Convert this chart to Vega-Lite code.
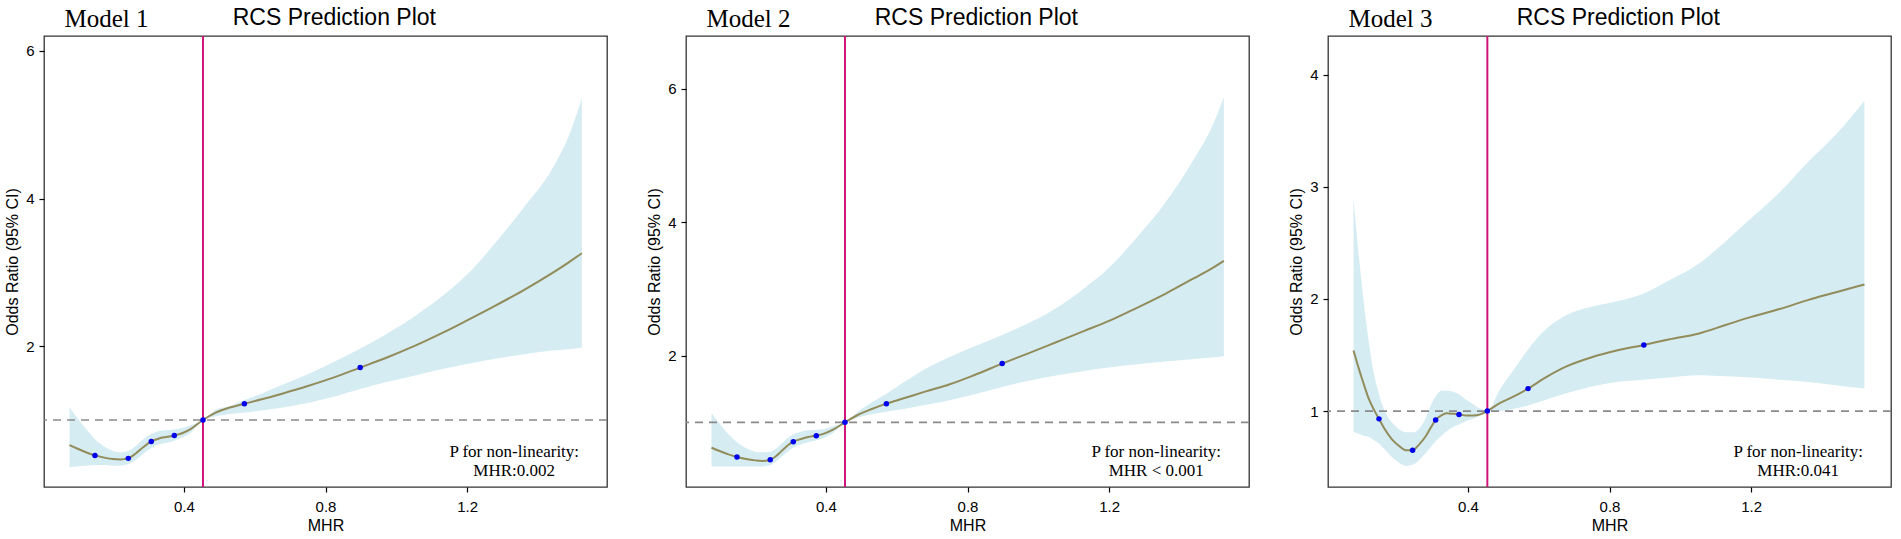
{
  "$schema": "https://vega.github.io/schema/vega-lite/v6.json",
  "padding": {"left": 4, "top": 6, "right": 0, "bottom": 0},
  "background": "white",
  "spacing": 37,
  "datasets": {
    "rcs": [
      {"m": "Model 1", "x": 0.077, "or": 0.66, "lo": 0.36, "hi": 1.17},
      {"m": "Model 1", "x": 0.10, "or": 0.61, "lo": 0.37, "hi": 1.02},
      {"m": "Model 1", "x": 0.125, "or": 0.56, "lo": 0.38, "hi": 0.87},
      {"m": "Model 1", "x": 0.149, "or": 0.52, "lo": 0.39, "hi": 0.74},
      {"m": "Model 1", "x": 0.175, "or": 0.49, "lo": 0.39, "hi": 0.64},
      {"m": "Model 1", "x": 0.20, "or": 0.47, "lo": 0.38, "hi": 0.58},
      {"m": "Model 1", "x": 0.22, "or": 0.465, "lo": 0.38, "hi": 0.56},
      {"m": "Model 1", "x": 0.243, "or": 0.48, "lo": 0.40, "hi": 0.58},
      {"m": "Model 1", "x": 0.265, "or": 0.55, "lo": 0.46, "hi": 0.65},
      {"m": "Model 1", "x": 0.285, "or": 0.63, "lo": 0.54, "hi": 0.74},
      {"m": "Model 1", "x": 0.308, "or": 0.71, "lo": 0.62, "hi": 0.81},
      {"m": "Model 1", "x": 0.33, "or": 0.75, "lo": 0.67, "hi": 0.85},
      {"m": "Model 1", "x": 0.35, "or": 0.77, "lo": 0.69, "hi": 0.86},
      {"m": "Model 1", "x": 0.373, "or": 0.79, "lo": 0.72, "hi": 0.87},
      {"m": "Model 1", "x": 0.395, "or": 0.82, "lo": 0.76, "hi": 0.89},
      {"m": "Model 1", "x": 0.42, "or": 0.88, "lo": 0.83, "hi": 0.93},
      {"m": "Model 1", "x": 0.454, "or": 1.0, "lo": 1.0, "hi": 1.0},
      {"m": "Model 1", "x": 0.49, "or": 1.10, "lo": 1.05, "hi": 1.14},
      {"m": "Model 1", "x": 0.53, "or": 1.17, "lo": 1.08, "hi": 1.19},
      {"m": "Model 1", "x": 0.571, "or": 1.22, "lo": 1.10, "hi": 1.27},
      {"m": "Model 1", "x": 0.62, "or": 1.28, "lo": 1.13, "hi": 1.36},
      {"m": "Model 1", "x": 0.68, "or": 1.36, "lo": 1.17, "hi": 1.48},
      {"m": "Model 1", "x": 0.75, "or": 1.46, "lo": 1.23, "hi": 1.62},
      {"m": "Model 1", "x": 0.82, "or": 1.57, "lo": 1.31, "hi": 1.78},
      {"m": "Model 1", "x": 0.898, "or": 1.71, "lo": 1.42, "hi": 1.97},
      {"m": "Model 1", "x": 0.97, "or": 1.84, "lo": 1.51, "hi": 2.16},
      {"m": "Model 1", "x": 1.05, "or": 2.00, "lo": 1.60, "hi": 2.40},
      {"m": "Model 1", "x": 1.13, "or": 2.18, "lo": 1.69, "hi": 2.68},
      {"m": "Model 1", "x": 1.20, "or": 2.35, "lo": 1.76, "hi": 2.97},
      {"m": "Model 1", "x": 1.28, "or": 2.55, "lo": 1.83, "hi": 3.40},
      {"m": "Model 1", "x": 1.36, "or": 2.76, "lo": 1.89, "hi": 3.88},
      {"m": "Model 1", "x": 1.44, "or": 2.99, "lo": 1.94, "hi": 4.40},
      {"m": "Model 1", "x": 1.488, "or": 3.14, "lo": 1.96, "hi": 4.86},
      {"m": "Model 1", "x": 1.524, "or": 3.26, "lo": 1.98, "hi": 5.36},

      {"m": "Model 2", "x": 0.077, "or": 0.62, "lo": 0.34, "hi": 1.14},
      {"m": "Model 2", "x": 0.10, "or": 0.57, "lo": 0.34, "hi": 0.98},
      {"m": "Model 2", "x": 0.125, "or": 0.52, "lo": 0.34, "hi": 0.82},
      {"m": "Model 2", "x": 0.149, "or": 0.48, "lo": 0.34, "hi": 0.70},
      {"m": "Model 2", "x": 0.175, "or": 0.45, "lo": 0.34, "hi": 0.61},
      {"m": "Model 2", "x": 0.20, "or": 0.43, "lo": 0.34, "hi": 0.56},
      {"m": "Model 2", "x": 0.22, "or": 0.42, "lo": 0.34, "hi": 0.55},
      {"m": "Model 2", "x": 0.243, "or": 0.44, "lo": 0.36, "hi": 0.56},
      {"m": "Model 2", "x": 0.265, "or": 0.52, "lo": 0.44, "hi": 0.63},
      {"m": "Model 2", "x": 0.285, "or": 0.62, "lo": 0.53, "hi": 0.73},
      {"m": "Model 2", "x": 0.308, "or": 0.71, "lo": 0.62, "hi": 0.82},
      {"m": "Model 2", "x": 0.33, "or": 0.75, "lo": 0.67, "hi": 0.86},
      {"m": "Model 2", "x": 0.35, "or": 0.78, "lo": 0.70, "hi": 0.88},
      {"m": "Model 2", "x": 0.373, "or": 0.80, "lo": 0.73, "hi": 0.89},
      {"m": "Model 2", "x": 0.395, "or": 0.83, "lo": 0.77, "hi": 0.90},
      {"m": "Model 2", "x": 0.42, "or": 0.89, "lo": 0.84, "hi": 0.94},
      {"m": "Model 2", "x": 0.454, "or": 1.0, "lo": 1.0, "hi": 1.0},
      {"m": "Model 2", "x": 0.49, "or": 1.11, "lo": 1.07, "hi": 1.16},
      {"m": "Model 2", "x": 0.53, "or": 1.20, "lo": 1.12, "hi": 1.30},
      {"m": "Model 2", "x": 0.571, "or": 1.28, "lo": 1.16, "hi": 1.43},
      {"m": "Model 2", "x": 0.62, "or": 1.36, "lo": 1.20, "hi": 1.60},
      {"m": "Model 2", "x": 0.68, "or": 1.46, "lo": 1.26, "hi": 1.80},
      {"m": "Model 2", "x": 0.75, "or": 1.57, "lo": 1.33, "hi": 1.98},
      {"m": "Model 2", "x": 0.82, "or": 1.71, "lo": 1.42, "hi": 2.14},
      {"m": "Model 2", "x": 0.898, "or": 1.88, "lo": 1.53, "hi": 2.31},
      {"m": "Model 2", "x": 0.97, "or": 2.03, "lo": 1.62, "hi": 2.48},
      {"m": "Model 2", "x": 1.05, "or": 2.20, "lo": 1.70, "hi": 2.71},
      {"m": "Model 2", "x": 1.13, "or": 2.37, "lo": 1.77, "hi": 3.01},
      {"m": "Model 2", "x": 1.20, "or": 2.52, "lo": 1.82, "hi": 3.32},
      {"m": "Model 2", "x": 1.28, "or": 2.72, "lo": 1.87, "hi": 3.78},
      {"m": "Model 2", "x": 1.36, "or": 2.93, "lo": 1.91, "hi": 4.30},
      {"m": "Model 2", "x": 1.44, "or": 3.16, "lo": 1.95, "hi": 4.95},
      {"m": "Model 2", "x": 1.488, "or": 3.30, "lo": 1.97, "hi": 5.40},
      {"m": "Model 2", "x": 1.524, "or": 3.42, "lo": 1.99, "hi": 5.87},

      {"m": "Model 3", "x": 0.077, "or": 1.54, "lo": 0.81, "hi": 2.90},
      {"m": "Model 3", "x": 0.09, "or": 1.40, "lo": 0.80, "hi": 2.45},
      {"m": "Model 3", "x": 0.105, "or": 1.25, "lo": 0.78, "hi": 2.00},
      {"m": "Model 3", "x": 0.12, "or": 1.11, "lo": 0.77, "hi": 1.62},
      {"m": "Model 3", "x": 0.135, "or": 1.01, "lo": 0.74, "hi": 1.33},
      {"m": "Model 3", "x": 0.149, "or": 0.93, "lo": 0.71, "hi": 1.15},
      {"m": "Model 3", "x": 0.165, "or": 0.84, "lo": 0.66, "hi": 1.00},
      {"m": "Model 3", "x": 0.185, "or": 0.75, "lo": 0.59, "hi": 0.90},
      {"m": "Model 3", "x": 0.205, "or": 0.69, "lo": 0.54, "hi": 0.84},
      {"m": "Model 3", "x": 0.225, "or": 0.65, "lo": 0.51, "hi": 0.81},
      {"m": "Model 3", "x": 0.244, "or": 0.65, "lo": 0.52, "hi": 0.81},
      {"m": "Model 3", "x": 0.262, "or": 0.70, "lo": 0.56, "hi": 0.84},
      {"m": "Model 3", "x": 0.28, "or": 0.77, "lo": 0.62, "hi": 0.93},
      {"m": "Model 3", "x": 0.295, "or": 0.85, "lo": 0.68, "hi": 1.05},
      {"m": "Model 3", "x": 0.309, "or": 0.92, "lo": 0.73, "hi": 1.13},
      {"m": "Model 3", "x": 0.325, "or": 0.96, "lo": 0.78, "hi": 1.18},
      {"m": "Model 3", "x": 0.34, "or": 0.98, "lo": 0.82, "hi": 1.18},
      {"m": "Model 3", "x": 0.36, "or": 0.975, "lo": 0.86, "hi": 1.17},
      {"m": "Model 3", "x": 0.375, "or": 0.97, "lo": 0.88, "hi": 1.15},
      {"m": "Model 3", "x": 0.395, "or": 0.96, "lo": 0.91, "hi": 1.10},
      {"m": "Model 3", "x": 0.415, "or": 0.96, "lo": 0.93, "hi": 1.06},
      {"m": "Model 3", "x": 0.435, "or": 0.97, "lo": 0.96, "hi": 1.02},
      {"m": "Model 3", "x": 0.455, "or": 1.0, "lo": 1.0, "hi": 1.0},
      {"m": "Model 3", "x": 0.49, "or": 1.07, "lo": 1.00, "hi": 1.19},
      {"m": "Model 3", "x": 0.53, "or": 1.13, "lo": 1.02, "hi": 1.37},
      {"m": "Model 3", "x": 0.57, "or": 1.20, "lo": 1.05, "hi": 1.55},
      {"m": "Model 3", "x": 0.62, "or": 1.30, "lo": 1.10, "hi": 1.73},
      {"m": "Model 3", "x": 0.68, "or": 1.40, "lo": 1.16, "hi": 1.86},
      {"m": "Model 3", "x": 0.75, "or": 1.48, "lo": 1.22, "hi": 1.93},
      {"m": "Model 3", "x": 0.82, "or": 1.54, "lo": 1.26, "hi": 1.98},
      {"m": "Model 3", "x": 0.897, "or": 1.59, "lo": 1.28, "hi": 2.05},
      {"m": "Model 3", "x": 0.97, "or": 1.64, "lo": 1.30, "hi": 2.17},
      {"m": "Model 3", "x": 1.05, "or": 1.69, "lo": 1.32, "hi": 2.31},
      {"m": "Model 3", "x": 1.13, "or": 1.77, "lo": 1.31, "hi": 2.52},
      {"m": "Model 3", "x": 1.20, "or": 1.84, "lo": 1.30, "hi": 2.72},
      {"m": "Model 3", "x": 1.28, "or": 1.91, "lo": 1.28, "hi": 2.95},
      {"m": "Model 3", "x": 1.36, "or": 1.99, "lo": 1.26, "hi": 3.22},
      {"m": "Model 3", "x": 1.44, "or": 2.06, "lo": 1.23, "hi": 3.47},
      {"m": "Model 3", "x": 1.52, "or": 2.13, "lo": 1.20, "hi": 3.77}
    ],
    "pts": [
      {"m": "Model 1", "x": 0.149, "or": 0.52},
      {"m": "Model 1", "x": 0.243, "or": 0.48},
      {"m": "Model 1", "x": 0.308, "or": 0.71},
      {"m": "Model 1", "x": 0.373, "or": 0.79},
      {"m": "Model 1", "x": 0.454, "or": 1.0},
      {"m": "Model 1", "x": 0.571, "or": 1.22},
      {"m": "Model 1", "x": 0.898, "or": 1.71},
      {"m": "Model 2", "x": 0.149, "or": 0.48},
      {"m": "Model 2", "x": 0.243, "or": 0.44},
      {"m": "Model 2", "x": 0.308, "or": 0.71},
      {"m": "Model 2", "x": 0.373, "or": 0.80},
      {"m": "Model 2", "x": 0.454, "or": 1.0},
      {"m": "Model 2", "x": 0.571, "or": 1.28},
      {"m": "Model 2", "x": 0.898, "or": 1.88},
      {"m": "Model 3", "x": 0.149, "or": 0.93},
      {"m": "Model 3", "x": 0.244, "or": 0.65},
      {"m": "Model 3", "x": 0.309, "or": 0.92},
      {"m": "Model 3", "x": 0.375, "or": 0.97},
      {"m": "Model 3", "x": 0.455, "or": 1.0},
      {"m": "Model 3", "x": 0.57, "or": 1.20},
      {"m": "Model 3", "x": 0.897, "or": 1.59}
    ]
  },
  "hconcat": [
    {
      "width": 563, "height": 451,
      "layer": [
        {"data": {"name": "rcs"}, "transform": [{"filter": "datum.m == 'Model 1'"}],
         "mark": {"type": "area", "color": "#d5ecf3", "interpolate": "monotone"},
         "encoding": {
           "x": {"field": "x", "type": "quantitative", "scale": {"domain": [0.005, 1.595], "nice": false, "zero": false}, "axis": {"values": [0.4, 0.8, 1.2], "format": ".1f", "title": "MHR"}},
           "y": {"field": "lo", "type": "quantitative", "scale": {"domain": [0.092, 6.203], "nice": false, "zero": false}, "axis": {"values": [2, 4, 6], "format": "d", "title": "Odds Ratio (95% CI)"}},
           "y2": {"field": "hi"}}},
        {"data": {"values": [{}]}, "mark": {"type": "rule", "color": "#8a8a8a", "strokeDash": [8, 6], "strokeWidth": 1.7}, "encoding": {"y": {"datum": 1}}},
        {"data": {"values": [{}]}, "mark": {"type": "rule", "color": "#d0157a", "strokeWidth": 2}, "encoding": {"x": {"datum": 0.454}}},
        {"data": {"name": "rcs"}, "transform": [{"filter": "datum.m == 'Model 1'"}],
         "mark": {"type": "line", "color": "#928b5a", "strokeWidth": 2, "interpolate": "monotone"},
         "encoding": {"x": {"field": "x", "type": "quantitative"}, "y": {"field": "or", "type": "quantitative"}}},
        {"data": {"name": "pts"}, "transform": [{"filter": "datum.m == 'Model 1'"}],
         "mark": {"type": "point", "filled": true, "color": "#0000ee", "size": 30, "opacity": 1},
         "encoding": {"x": {"field": "x", "type": "quantitative"}, "y": {"field": "or", "type": "quantitative"}}},
        {"data": {"values": [{}]}, "mark": {"type": "text", "text": ["P for non-linearity:", "MHR:0.002"], "font": "Liberation Serif", "fontSize": 17, "lineHeight": 19, "align": "center", "baseline": "alphabetic", "color": "#000"},
         "encoding": {"x": {"datum": 1.333}, "y": {"datum": 0.499}}},
        {"data": {"values": [{}]}, "mark": {"type": "text", "text": "Model 1", "font": "Liberation Serif", "fontSize": 25, "align": "left", "baseline": "alphabetic", "color": "#000"},
         "encoding": {"x": {"datum": 0.063}, "y": {"datum": 6.325}}},
        {"data": {"values": [{}]}, "mark": {"type": "text", "text": "RCS Prediction Plot", "font": "Liberation Sans", "fontSize": 23, "align": "center", "baseline": "alphabetic", "color": "#000"},
         "encoding": {"x": {"datum": 0.825}, "y": {"datum": 6.352}}}
      ]
    },
    {
      "width": 563, "height": 451,
      "layer": [
        {"data": {"name": "rcs"}, "transform": [{"filter": "datum.m == 'Model 2'"}],
         "mark": {"type": "area", "color": "#d5ecf3", "interpolate": "monotone"},
         "encoding": {
           "x": {"field": "x", "type": "quantitative", "scale": {"domain": [0.005, 1.595], "nice": false, "zero": false}, "axis": {"values": [0.4, 0.8, 1.2], "format": ".1f", "title": "MHR"}},
           "y": {"field": "lo", "type": "quantitative", "scale": {"domain": [0.031, 6.789], "nice": false, "zero": false}, "axis": {"values": [2, 4, 6], "format": "d", "title": "Odds Ratio (95% CI)"}},
           "y2": {"field": "hi"}}},
        {"data": {"values": [{}]}, "mark": {"type": "rule", "color": "#8a8a8a", "strokeDash": [8, 6], "strokeWidth": 1.7}, "encoding": {"y": {"datum": 1}}},
        {"data": {"values": [{}]}, "mark": {"type": "rule", "color": "#d0157a", "strokeWidth": 2}, "encoding": {"x": {"datum": 0.454}}},
        {"data": {"name": "rcs"}, "transform": [{"filter": "datum.m == 'Model 2'"}],
         "mark": {"type": "line", "color": "#928b5a", "strokeWidth": 2, "interpolate": "monotone"},
         "encoding": {"x": {"field": "x", "type": "quantitative"}, "y": {"field": "or", "type": "quantitative"}}},
        {"data": {"name": "pts"}, "transform": [{"filter": "datum.m == 'Model 2'"}],
         "mark": {"type": "point", "filled": true, "color": "#0000ee", "size": 30, "opacity": 1},
         "encoding": {"x": {"field": "x", "type": "quantitative"}, "y": {"field": "or", "type": "quantitative"}}},
        {"data": {"values": [{}]}, "mark": {"type": "text", "text": ["P for non-linearity:", "MHR < 0.001"], "font": "Liberation Serif", "fontSize": 17, "lineHeight": 19, "align": "center", "baseline": "alphabetic", "color": "#000"},
         "encoding": {"x": {"datum": 1.333}, "y": {"datum": 0.481}}},
        {"data": {"values": [{}]}, "mark": {"type": "text", "text": "Model 2", "font": "Liberation Serif", "fontSize": 25, "align": "left", "baseline": "alphabetic", "color": "#000"},
         "encoding": {"x": {"datum": 0.063}, "y": {"datum": 6.924}}},
        {"data": {"values": [{}]}, "mark": {"type": "text", "text": "RCS Prediction Plot", "font": "Liberation Sans", "fontSize": 23, "align": "center", "baseline": "alphabetic", "color": "#000"},
         "encoding": {"x": {"datum": 0.825}, "y": {"datum": 6.954}}}
      ]
    },
    {
      "width": 563, "height": 451,
      "layer": [
        {"data": {"name": "rcs"}, "transform": [{"filter": "datum.m == 'Model 3'"}],
         "mark": {"type": "area", "color": "#d5ecf3", "interpolate": "monotone"},
         "encoding": {
           "x": {"field": "x", "type": "quantitative", "scale": {"domain": [0.005, 1.595], "nice": false, "zero": false}, "axis": {"values": [0.4, 0.8, 1.2], "format": ".1f", "title": "MHR"}},
           "y": {"field": "lo", "type": "quantitative", "scale": {"domain": [0.322, 4.347], "nice": false, "zero": false}, "axis": {"values": [1, 2, 3, 4], "format": "d", "title": "Odds Ratio (95% CI)"}},
           "y2": {"field": "hi"}}},
        {"data": {"values": [{}]}, "mark": {"type": "rule", "color": "#8a8a8a", "strokeDash": [8, 6], "strokeWidth": 1.7}, "encoding": {"y": {"datum": 1}}},
        {"data": {"values": [{}]}, "mark": {"type": "rule", "color": "#d0157a", "strokeWidth": 2}, "encoding": {"x": {"datum": 0.455}}},
        {"data": {"name": "rcs"}, "transform": [{"filter": "datum.m == 'Model 3'"}],
         "mark": {"type": "line", "color": "#928b5a", "strokeWidth": 2, "interpolate": "monotone"},
         "encoding": {"x": {"field": "x", "type": "quantitative"}, "y": {"field": "or", "type": "quantitative"}}},
        {"data": {"name": "pts"}, "transform": [{"filter": "datum.m == 'Model 3'"}],
         "mark": {"type": "point", "filled": true, "color": "#0000ee", "size": 30, "opacity": 1},
         "encoding": {"x": {"field": "x", "type": "quantitative"}, "y": {"field": "or", "type": "quantitative"}}},
        {"data": {"values": [{}]}, "mark": {"type": "text", "text": ["P for non-linearity:", "MHR:0.041"], "font": "Liberation Serif", "fontSize": 17, "lineHeight": 19, "align": "center", "baseline": "alphabetic", "color": "#000"},
         "encoding": {"x": {"datum": 1.333}, "y": {"datum": 0.589}}},
        {"data": {"values": [{}]}, "mark": {"type": "text", "text": "Model 3", "font": "Liberation Serif", "fontSize": 25, "align": "left", "baseline": "alphabetic", "color": "#000"},
         "encoding": {"x": {"datum": 0.063}, "y": {"datum": 4.427}}},
        {"data": {"values": [{}]}, "mark": {"type": "text", "text": "RCS Prediction Plot", "font": "Liberation Sans", "fontSize": 23, "align": "center", "baseline": "alphabetic", "color": "#000"},
         "encoding": {"x": {"datum": 0.825}, "y": {"datum": 4.445}}}
      ]
    }
  ],
  "config": {
    "view": {"stroke": "#333", "strokeWidth": 1.3},
    "axis": {"domain": false, "grid": false, "ticks": true, "tickColor": "#000", "tickSize": 5, "tickWidth": 1.2,
             "labelFont": "Liberation Sans", "labelFontSize": 15, "labelColor": "#000",
             "titleFont": "Liberation Sans", "titleFontSize": 16, "titleFontWeight": "normal", "titleColor": "#000"},
    "axisX": {"labelPadding": 7, "titlePadding": 3},
    "axisY": {"labelPadding": 5, "titlePadding": 5}
  }
}
